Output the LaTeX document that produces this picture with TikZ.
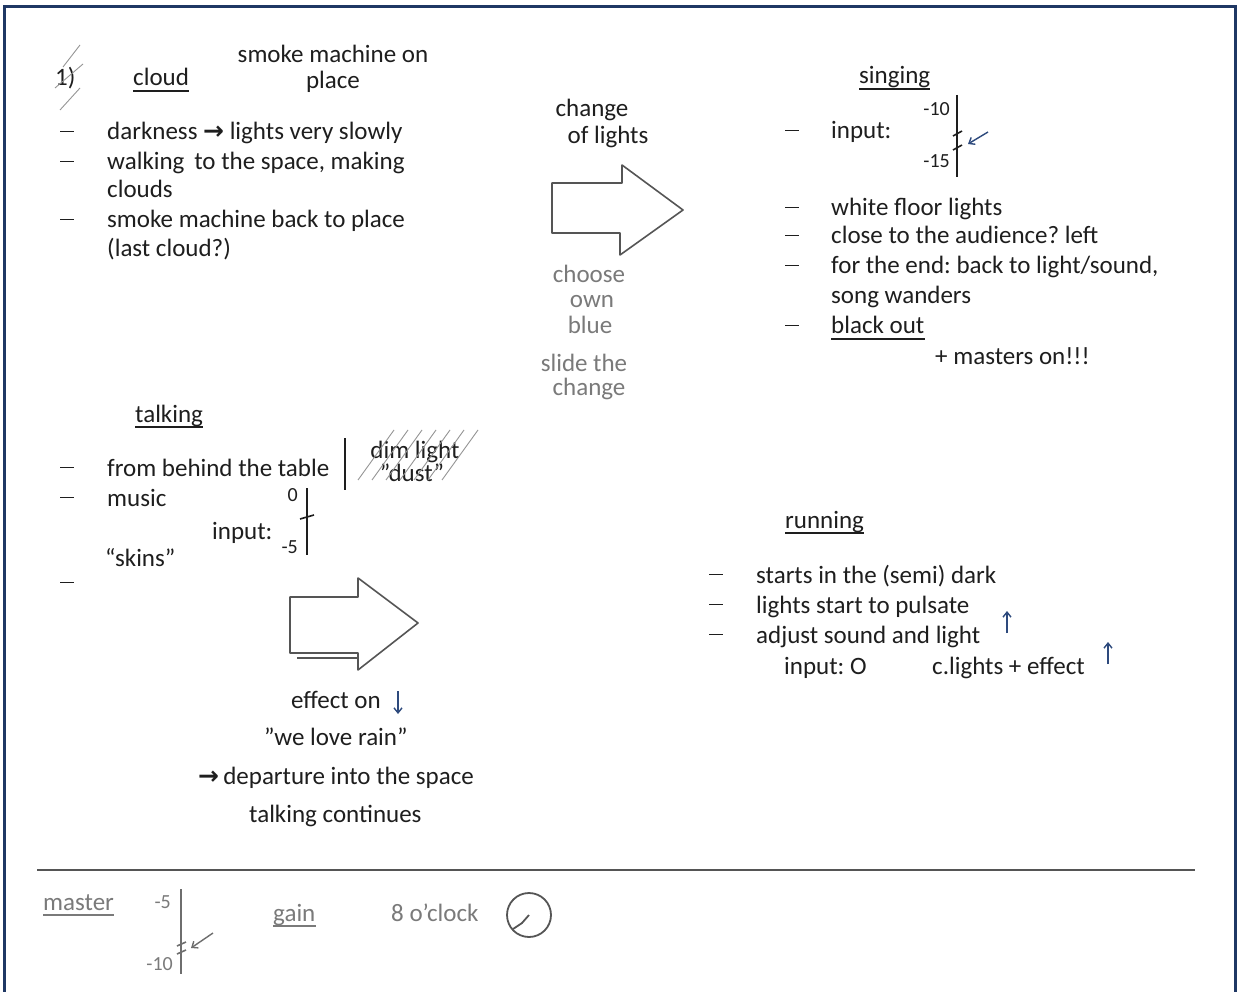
\documentclass[tikz,border=0pt]{standalone}
\usepackage{fontspec}
\usetikzlibrary{arrows.meta}
\setmainfont{Carlito}
\newfontfamily\dejavu{DejaVu Sans}
\definecolor{ink}{HTML}{1E1E1E}
\definecolor{graytxt}{HTML}{7A7A7A}
\definecolor{navy}{HTML}{1F3864}
\definecolor{penblue}{HTML}{2E4A7D}
\definecolor{pencil}{HTML}{555555}
\frenchspacing
\newcommand\ulnode[2][ink]{\draw[#1,line width=1.3pt] ([yshift=-5pt]#2.base west) -- ([yshift=-5pt]#2.base east);}
\newcommand\dashmark{\rule[8pt]{14pt}{1.4pt}}
\begin{document}
\begin{tikzpicture}[x=1pt,y=-1pt,
  txt/.style={anchor=base west,inner sep=0pt,font=\fontsize{25}{30}\selectfont,text=ink},
  ctxt/.style={txt,anchor=base},
  gtxt/.style={txt,text=graytxt},
  gctxt/.style={ctxt,text=graytxt},
  scal/.style={anchor=base east,inner sep=0pt,font=\fontsize{20}{24}\selectfont,text=ink},
  gscal/.style={scal,text=graytxt},
  bar/.style={ink,line width=2.2pt},
  tick/.style={ink,line width=1.6pt},
  hatch/.style={graytxt!80,line width=0.9pt},
  bigarrow/.style={pencil,line width=1.6pt,line join=round},
  pen/.style={penblue,line width=1.4pt,-{Straight Barb[length=5pt,width=8pt]}},
]
\useasboundingbox (0,0) rectangle (1237,992);
\fill[white] (0,0) rectangle (1237,992);
\draw[navy,line width=3pt] (4.5,992) -- (4.5,6.5) -- (1235.5,6.5) -- (1235.5,992);

% ---------- cloud ----------
\node[txt] (one) at (55,86) {1)};
\draw[hatch] (80,45) -- (63,67);
\draw[hatch] (83,64) -- (55,88);
\draw[hatch] (80,88) -- (60,110);
\node[txt] (cloud) at (133,86) {cloud};
\ulnode{cloud}
\node[ctxt] (smoke1) at (333,63) {smoke machine on};
\node[ctxt] (smoke2) at (333,89) {place};
\node[txt] (cd1) at (60,140) {\dashmark};
\node[txt] (ct1) at (107,140) {darkness {\dejavu\bfseries →} lights very slowly};
\node[txt] (cd2) at (60,170) {\dashmark};
\node[txt] (ct2) at (107,170) {walking\, to the space, making};
\node[txt] (ct3) at (107,198) {clouds};
\node[txt] (cd3) at (60,228) {\dashmark};
\node[txt] (ct4) at (107,228) {smoke machine back to place};
\node[txt] (ct5) at (107,257) {(last cloud?)};

% ---------- change of lights ----------
\node[ctxt] (ch1) at (592,117) {change};
\node[ctxt] (ch2) at (608,144) {of lights};
\draw[bigarrow] (552,183) -- (622,183) -- (622,165) -- (683,210) -- (620,255) -- (620,233) -- (552,233) -- cycle;
\node[gctxt] (g1) at (589,283) {choose};
\node[gctxt] (g2) at (592,308) {own};
\node[gctxt] (g3) at (590,334) {blue};
\node[gctxt] (g4) at (584,371) {slide the};
\node[gctxt] (g5) at (589,395) {change};

% ---------- singing ----------
\node[txt] (sing) at (859,84) {singing};
\ulnode{sing}
\node[txt] (sd1) at (785,139) {\dashmark};
\node[txt] (si1) at (831,139) {input:};
\coordinate (s1top) at (957,95);
\coordinate (s1bot) at (957,177);
\draw[bar] (s1top) -- (s1bot);
\node[scal] (s1a) at (950,116) {-10};
\node[scal] (s1b) at (950,168) {-15};
\draw[tick] (953,136) -- (962,131);
\draw[tick] (953,150) -- (962,145);
\coordinate (s1p) at (988,132);
\coordinate (s1q) at (968,144);
\draw[pen] (s1p) -- (s1q);
\node[txt] (sd2) at (785,216) {\dashmark};
\node[txt] (si2) at (831,216) {white floor lights};
\node[txt] (sd3) at (785,244) {\dashmark};
\node[txt] (si3) at (831,244) {close to the audience? left};
\node[txt] (sd4) at (785,274) {\dashmark};
\node[txt] (si4) at (831,274) {for the end: back to light/sound,};
\node[txt] (si5) at (831,304) {song wanders};
\node[txt] (sd5) at (785,334) {\dashmark};
\node[txt] (si6) at (831,334) {black out};
\ulnode{si6}
\node[txt] (si7) at (935,364) {+ masters on!!!};

% ---------- talking ----------
\node[txt] (talk) at (135,422) {talking};
\ulnode{talk}
\node[txt] (td1) at (60,476) {\dashmark};
\node[txt] (tt1) at (107,476) {from behind the table};
\coordinate (tbtop) at (345,438);
\coordinate (tbbot) at (345,490);
\draw[bar] (tbtop) -- (tbbot);
\node[ctxt] (dim) at (415,458) {dim light};
\node[ctxt] (dust) at (412,481) {”dust”};
\foreach \k in {0,...,6} {
  \draw[hatch] (358+14*\k,480) -- (394+14*\k,430);
}
\node[txt] (td2) at (60,506) {\dashmark};
\node[txt] (tt2) at (107,506) {music};
\coordinate (s2top) at (307,488);
\coordinate (s2bot) at (307,555);
\draw[bar] (s2top) -- (s2bot);
\node[scal] (s2a) at (298,501) {0};
\node[scal] (s2b) at (298,553) {-5};
\draw[tick] (300,519) -- (314,515);
\node[txt] (tt3) at (212,539) {input:};
\node[txt] (tt4) at (105,566) {“skins”};
\node[txt] (td3) at (60,591) {\dashmark};
\draw[bigarrow] (290,597) -- (358,597) -- (358,578) -- (418,623) -- (358,670) -- (358,653) -- (290,653) -- cycle;
\draw[bigarrow] (297,658) -- (358,658);
\node[txt] (eff) at (291,708) {effect on};
\coordinate (effa) at (398,691);
\coordinate (effb) at (398,714);
\draw[pen] (effa) -- (effb);
\node[txt] (rain) at (264,745) {”we love rain”};
\node[txt] (dep) at (198,784) {{\dejavu\bfseries →}\,departure into the space};
\node[txt] (cont) at (249,822) {talking continues};

% ---------- running ----------
\node[txt] (run) at (785,528) {running};
\ulnode{run}
\node[txt] (rd1) at (709,583) {\dashmark};
\node[txt] (rt1) at (756,583) {starts in the (semi) dark};
\node[txt] (rd2) at (709,613) {\dashmark};
\node[txt] (rt2) at (756,613) {lights start to pulsate};
\node[txt] (rd3) at (709,643) {\dashmark};
\node[txt] (rt3) at (756,643) {adjust sound and light};
\node[txt] (rt4) at (784,674) {input: O};
\node[txt] (rt5) at (932,674) {c.lights + effect};
\coordinate (up1a) at (1007,633);
\coordinate (up1b) at (1007,611);
\draw[pen] (up1a) -- (up1b);
\coordinate (up2a) at (1108,664);
\coordinate (up2b) at (1108,642);
\draw[pen] (up2a) -- (up2b);

% ---------- bottom ----------
\coordinate (hl1) at (37,870);
\coordinate (hl2) at (1195,870);
\draw[pencil,line width=1.5pt] (hl1) -- (hl2);
\node[gtxt] (mast) at (43,910) {master};
\ulnode[graytxt]{mast}
\coordinate (s3top) at (181,889);
\coordinate (s3bot) at (181,974);
\draw[graytxt!90!black,line width=2.2pt] (s3top) -- (s3bot);
\node[gscal] (s3a) at (171,908) {-5};
\node[gscal] (s3b) at (173,970) {-10};
\draw[graytxt!90!black,line width=1.6pt] (177,946) -- (186,942);
\draw[graytxt!90!black,line width=1.6pt] (177,954) -- (186,950);
\coordinate (s3p) at (213,933);
\coordinate (s3q) at (191,948);
\draw[pen,graytxt!90!black] (s3p) -- (s3q);
\node[gtxt] (gain) at (273,921) {gain};
\ulnode[graytxt]{gain}
\node[gtxt] (clock) at (391,921) {8 o’clock};
\node[draw=graytxt!70!black,line width=1.8pt,circle,minimum size=44pt,inner sep=0pt] (dial) at (529,915) {};
\draw[graytxt!70!black,line width=1.8pt,line join=round] (dial.center) -- (522,923) -- (513,929);
\end{tikzpicture}
\end{document}
